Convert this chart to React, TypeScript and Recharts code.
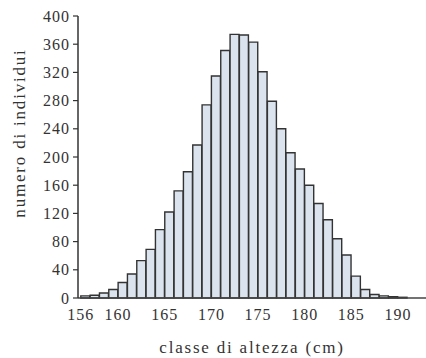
import React from "react";
import { BarChart, Bar, XAxis, YAxis, Label } from "recharts";

// height classes (cm), lower edge of each 1 cm bin
const binStarts = [
  156, 157, 158, 159, 160, 161, 162, 163, 164, 165, 166, 167, 168, 169, 170, 171, 172, 173,
  174, 175, 176, 177, 178, 179, 180, 181, 182, 183, 184, 185, 186, 187, 188, 189, 190,
];

// number of individuals per class
const counts = [
  3, 4, 7, 12, 22, 34, 53, 69, 97, 122, 152, 179, 217, 274, 315, 351, 374, 373,
  363, 321, 279, 240, 206, 183, 160, 134, 111, 84, 61, 31, 12, 5, 3, 2, 1,
];

const xTicks = [156, 160, 165, 170, 175, 180, 185, 190];
const yTicks = [0, 40, 80, 120, 160, 200, 240, 280, 320, 360, 400];

const FONT = "'Liberation Serif', 'DejaVu Serif', serif";
const INK = "#333";

const data = binStarts.map((start, i) => ({ mid: start + 0.5, count: counts[i] }));

const tickStyle = { fontFamily: FONT, fontSize: 16, fill: INK, letterSpacing: 1 };
const titleStyle = { fontFamily: FONT, fontSize: 17, fill: INK, letterSpacing: 1.8 };

const XTitle = (props: any) => {
  const { viewBox } = props;
  return (
    <text
      x={viewBox.x + viewBox.width / 2}
      y={viewBox.y + 55}
      textAnchor="middle"
      style={titleStyle}
    >
      classe di altezza (cm)
    </text>
  );
};

const YTitle = (props: any) => {
  const { viewBox } = props;
  const x = viewBox.x + 25;
  const y = viewBox.y + 117;
  return (
    <text
      x={x}
      y={y}
      transform={`rotate(-90, ${x}, ${y})`}
      textAnchor="middle"
      style={titleStyle}
    >
      numero di individui
    </text>
  );
};

export default function App() {
  return (
    <div style={{ position: "absolute", left: 0, top: 0, background: "#fff" }}>
      <BarChart
        width={426}
        height={358}
        data={data}
        margin={{ top: 16, right: 0, bottom: 0, left: 0 }}
        barCategoryGap={0}
        barGap={0}
      >
        <XAxis
          type="number"
          dataKey="mid"
          domain={[155.7, 193]}
          allowDataOverflow
          ticks={xTicks}
          interval={0}
          height={60}
          tickLine={false}
          tickMargin={5}
          axisLine={{ stroke: "#444", strokeWidth: 1.5 }}
          tick={tickStyle}
        >
          <Label content={<XTitle />} />
        </XAxis>
        <YAxis
          domain={[0, 400]}
          ticks={yTicks}
          interval={0}
          width={78}
          tickSize={5}
          tickMargin={3}
          axisLine={{ stroke: "#333", strokeWidth: 1.5 }}
          tickLine={{ stroke: "#333", strokeWidth: 1.2 }}
          tick={tickStyle}
        >
          <Label content={<YTitle />} />
        </YAxis>
        <Bar
          dataKey="count"
          fill="#dbe4ee"
          stroke="#333"
          strokeWidth={1.4}
          isAnimationActive={false}
        />
      </BarChart>
    </div>
  );
}
